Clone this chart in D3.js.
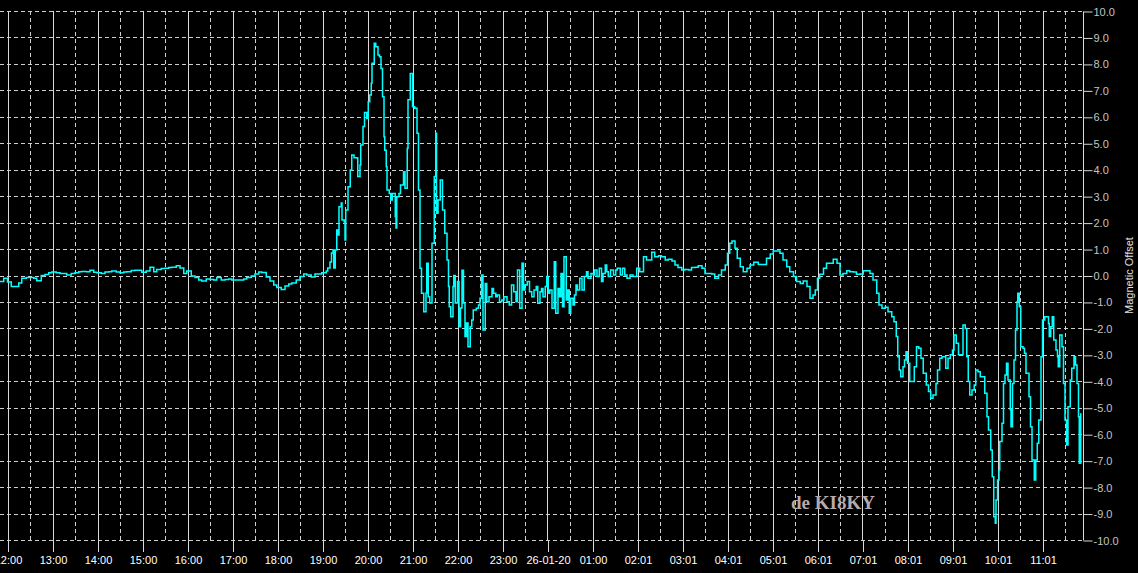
<!DOCTYPE html>
<html>
<head>
<meta charset="utf-8">
<script src="https://cdn.jsdelivr.net/npm/d3@7"></script>
<style>
  html, body { margin: 0; padding: 0; background: #000; overflow: hidden; }
  svg { display: block; }
  .axis text { font-family: "Liberation Sans", Arial, sans-serif; font-size: 11px; }
</style>
</head>
<body>
<div id="chart"></div>
<script>
// minutes after the first sample (25-01-20 11:50) and magnetic offset at that minute
const minutes = [
  0,5,10,15,20,25,29,35,40,45,49,55,60,65,69,75,80,85,89,95,100,105,109,115,120,125,129,135,140,145,149,155,
  160,165,169,175,180,185,189,195,200,205,209,215,220,225,229,235,240,245,249,255,260,265,269,275,280,285,289,
  295,300,305,309,315,320,325,329,335,340,345,349,355,360,365,369,375,380,385,389,395,400,405,409,415,420,425,
  429,435,437,440,442,444,445,447,449,450,452,455,456,459,460,461,464,467,469,472,476,477,480,481,484,486,489,
  491,493,495,496,499,501,504,506,508,510,512,513,515,516,519,521,523,527,528,529,532,534,538,540,543,544,547,
  549,550,553,556,558,560,562,565,568,569,571,573,576,579,581,582,584,587,590,593,596,598,599,601,604,605,607,
  610,612,614,616,618,620,622,624,627,629,631,635,638,640,642,644,647,649,652,656,658,661,663,666,669,672,676,
  679,682,685,688,690,693,696,698,700,703,706,709,712,715,717,720,722,724,727,729,731,733,736,739,741,744,746,
  748,750,752,755,757,759,761,764,766,768,770,773,776,779,782,784,788,791,793,796,799,802,804,807,809,811,814,
  818,821,823,827,830,833,836,840,844,849,853,858,862,869,873,878,882,887,891,896,900,904,909,913,918,922,927,
  931,936,940,944,949,953,958,962,967,970,973,976,980,983,987,991,996,1000,1005,1011,1018,1022,1027,1031,1036,
  1040,1044,1049,1053,1058,1062,1067,1071,1076,1080,1084,1087,1090,1093,1098,1102,1107,1111,1116,1120,1124,
  1129,1133,1138,1142,1147,1151,1156,1160,1164,1169,1172,1176,1180,1184,1189,1192,1195,1197,1199,1201,1204,
  1206,1208,1210,1213,1217,1219,1222,1225,1228,1231,1235,1238,1241,1244,1248,1250,1253,1256,1259,1261,1264,
  1267,1270,1272,1275,1278,1282,1284,1287,1289,1291,1293,1296,1299,1301,1304,1307,1311,1313,1316,1318,1321,
  1323,1325,1327,1328,1330,1332,1333,1336,1338,1340,1342,1344,1347,1348,1350,1352,1354,1356,1357,1359,1361,
  1364,1366,1368,1370,1372,1374,1376,1379,1381,1383,1385,1388,1390,1393,1396,1398,1399,1401,1403,1405,1408,
  1410,1411,1413,1416,1418,1420,1422,1424,1427,1429,1432,1434,1436,1438,1439,1441
];
const offsets = [
  -0.23,-0.1,-0.25,-0.42,-0.42,-0.28,-0.1,-0.08,-0.08,-0.1,-0.2,0.0,0.04,0.1,0.13,0.1,0.08,0.08,0.02,0.08,0.1,
  0.14,0.15,0.14,0.2,0.12,0.1,0.08,0.13,0.14,0.17,0.13,0.1,0.13,0.14,0.19,0.2,0.2,0.12,0.17,0.31,0.14,0.23,0.26,
  0.27,0.3,0.31,0.37,0.28,0.08,0.17,-0.02,-0.08,-0.17,-0.21,-0.13,-0.15,-0.17,-0.08,-0.17,-0.15,-0.13,-0.17,
  -0.17,-0.17,-0.13,-0.08,-0.02,0.06,0.13,0.11,-0.06,-0.21,-0.36,-0.45,-0.53,-0.4,-0.32,-0.28,-0.17,-0.04,0.06,
  0.02,-0.06,0.06,0.06,0.1,0.17,0.28,0.51,0.85,0.96,0.28,0.96,1.72,1.53,2.6,2.74,2.1,2.03,1.34,2.48,3.36,3.99,
  4.56,4.45,4.44,3.74,4.18,4.93,5.63,6.16,5.94,6.57,6.82,7.27,8.02,8.78,8.65,8.34,8.27,7.83,6.76,5.25,4.74,4.11,
  3.23,3.1,2.85,3.1,2.22,1.8,2.98,3.1,3.42,3.92,3.3,4.81,6.64,7.64,7.64,6.38,6.32,5.38,3.23,0.27,-0.67,-1.37,
  -0.66,0.46,-0.8,-1.04,1.22,3.74,5.38,2.35,2.85,3.61,2.48,1.6,0.59,-0.42,-1.18,-1.56,-0.42,0.0,-1.04,-0.23,
  -1.94,-1.23,0.2,-1.04,-2.31,-1.8,-2.69,-1.94,-1.68,-1.3,-1.24,-1.12,-0.86,0.02,-2.06,-0.3,-0.99,-0.8,-0.49,
  -0.67,-0.8,-0.74,-0.99,-0.93,-0.8,-0.99,-1.12,-0.36,-0.61,-0.99,0.21,-1.24,0.46,-0.55,-0.36,-0.23,-0.61,-0.8,
  -0.55,-0.42,-1.05,-0.61,-0.49,-0.8,-0.42,-0.04,-0.67,-0.55,-1.24,0.52,-1.43,-0.49,-0.8,0.08,-1.18,0.71,-0.93,
  -0.55,-1.43,-0.86,-1.12,-0.74,-0.36,-0.55,-0.1,-0.55,-0.04,0.14,-0.1,0.08,0.02,0.21,-0.04,0.27,-0.23,0.08,0.4,
  0.14,-0.04,0.21,0.02,0.21,0.27,0.02,0.27,0.02,-0.1,0.02,-0.04,0.27,0.14,0.71,0.59,0.88,0.71,0.75,0.71,0.59,
  0.61,0.55,0.4,0.3,0.21,0.23,0.21,0.3,0.31,0.37,0.27,0.08,0.08,0.06,-0.1,0.02,0.21,0.4,0.84,1.22,1.3,1.03,0.65,
  0.33,0.14,0.27,0.4,0.5,0.42,0.42,0.65,0.81,0.93,0.93,0.84,0.59,0.33,0.14,-0.04,-0.23,-0.3,-0.21,-0.42,-0.86,
  -0.74,-0.55,-0.1,0.05,0.27,0.46,0.46,0.61,0.46,0.02,0.08,0.18,0.14,0.13,0.05,0.06,0.18,0.18,0.08,-0.17,-0.67,
  -1.12,-1.24,-1.2,-1.37,-1.56,-1.75,-2.31,-3.07,-3.57,-3.83,-3.45,-3.19,-2.88,-3.32,-4.01,-4.01,-3.45,-2.69,
  -2.75,-3.13,-3.7,-4.14,-4.39,-4.64,-4.52,-4.08,-3.57,-3.13,-3.07,-3.07,-3.51,-3.13,-3.0,-2.82,-2.25,-2.56,
  -3.0,-3.0,-1.87,-2.0,-3.07,-4.01,-4.52,-4.33,-4.14,-3.57,-3.64,-3.83,-3.83,-4.45,-5.34,-5.84,-6.6,-7.61,-9.12,
  -9.37,-8.49,-7.73,-7.35,-6.28,-5.59,-4.08,-3.76,-3.32,-3.95,-5.08,-5.72,-4.08,-3.19,-2.06,-0.99,-0.67,-1.18,
  -2.69,-2.75,-2.94,-3.7,-3.7,-4.58,-5.72,-6.98,-7.73,-6.98,-6.34,-5.46,-3.07,-1.68,-1.56,-1.56,-1.81,-2.31,
  -1.94,-1.56,-2.44,-2.82,-3.07,-3.45,-2.25,-2.69,-4.08,-5.46,-6.41,-4.96,-3.95,-3.51,-3.07,-3.38,-4.08,-5.34,
  -7.1,-5.21
];
const hourLabels = ["12:00","13:00","14:00","15:00","16:00","17:00","18:00","19:00","20:00","21:00","22:00",
  "23:00","26-01-20","01:00","02:01","03:01","04:01","05:01","06:01","07:01","08:01","09:01","10:01","11:01"];
const yTicks = d3.range(-10, 11);

const W = 1138, H = 573;
const plotLeft = 0, plotRight = 1083, plotTop = 11, plotBottom = 540;
const start = new Date(2020, 0, 25, 11, 50);
const addMin = m => new Date(start.getTime() + m * 60000);

const data = minutes.map((m, i) => ({ t: addMin(m), v: offsets[i] }));

const x = d3.scaleTime()
  .domain([start, addMin(1444)])
  .range([plotLeft, plotRight]);

const y = d3.scaleLinear()
  .domain([-10, 10])
  .range([plotBottom, plotTop]);

const svg = d3.select("#chart").append("svg")
  .attr("width", W)
  .attr("height", H);

svg.append("rect").attr("width", W).attr("height", H).attr("fill", "#000");

const hourTicks = hourLabels.map((d, i) => addMin(10 + i * 60));
const halfTicks = hourLabels.map((d, i) => addMin(40 + i * 60));

const grid = svg.append("g").attr("class", "grid");

// horizontal dashed grid
grid.selectAll("line.h")
  .data(yTicks)
  .join("line")
  .attr("class", "h")
  .attr("x1", plotLeft)
  .attr("x2", plotRight)
  .attr("y1", d => Math.round(y(d)) + 0.5)
  .attr("y2", d => Math.round(y(d)) + 0.5)
  .attr("stroke", "#cfcfcf")
  .attr("stroke-dasharray", "4,3");

// half hour dashed lines
grid.selectAll("line.vh")
  .data(halfTicks.filter(d => x(d) < plotRight))
  .join("line")
  .attr("class", "vh")
  .attr("x1", d => Math.round(x(d)) + 0.5)
  .attr("x2", d => Math.round(x(d)) + 0.5)
  .attr("y1", plotTop)
  .attr("y2", plotBottom)
  .attr("stroke", "#cfcfcf")
  .attr("stroke-dasharray", "4,3");

// hour solid lines
grid.selectAll("line.v")
  .data(hourTicks)
  .join("line")
  .attr("class", "v")
  .attr("x1", d => Math.round(x(d)) + 0.5)
  .attr("x2", d => Math.round(x(d)) + 0.5)
  .attr("y1", plotTop)
  .attr("y2", plotBottom)
  .attr("stroke", "#d8d8d8");

// bottom axis
const axisX = d3.axisBottom(x)
  .tickValues(hourTicks)
  .tickFormat((d, i) => hourLabels[i])
  .tickSize(12)
  .tickPadding(4);

const gx = svg.append("g")
  .attr("class", "axis axis--x")
  .attr("transform", `translate(0.5, ${plotBottom})`)
  .call(axisX);
gx.select(".domain").remove();
gx.selectAll("line").attr("stroke", "#d8d8d8");
gx.selectAll("text").attr("fill", "#fff");

// right axis
const axisY = d3.axisRight(y)
  .tickValues(yTicks)
  .tickFormat(d => d.toFixed(1))
  .tickSize(9)
  .tickPadding(1);

const gy = svg.append("g")
  .attr("class", "axis axis--y")
  .attr("transform", `translate(${plotRight + 0.5}, 0.5)`)
  .call(axisY);
gy.select(".domain").attr("stroke", "#d8d8d8").attr("d", `M0,${plotTop}V${plotBottom}`);
gy.selectAll("line").attr("stroke", "#d8d8d8");
gy.selectAll("text").attr("fill", "#c4c4c4");

svg.append("text")
  .attr("transform", `translate(1133, ${(plotTop + plotBottom) / 2}) rotate(-90)`)
  .attr("text-anchor", "middle")
  .attr("font-family", "Liberation Sans, Arial, sans-serif")
  .attr("font-size", 11)
  .attr("fill", "#e0e0e0")
  .text("Magnetic Offset");

// watermark
svg.append("text")
  .attr("x", 791)
  .attr("y", 509)
  .attr("font-family", "Liberation Serif, 'Times New Roman', serif")
  .attr("font-weight", "bold")
  .attr("font-size", 19)
  .attr("fill", "#b8aaaa")
  .text("de KI8KY");

// the trace
const line = d3.line()
  .x(d => x(d.t))
  .y(d => y(d.v))
  .curve(d3.curveStepAfter);

svg.append("path")
  .datum(data)
  .attr("d", line)
  .attr("fill", "none")
  .attr("stroke", "#00ffff")
  .attr("stroke-width", 1.5);
</script>
</body>
</html>
